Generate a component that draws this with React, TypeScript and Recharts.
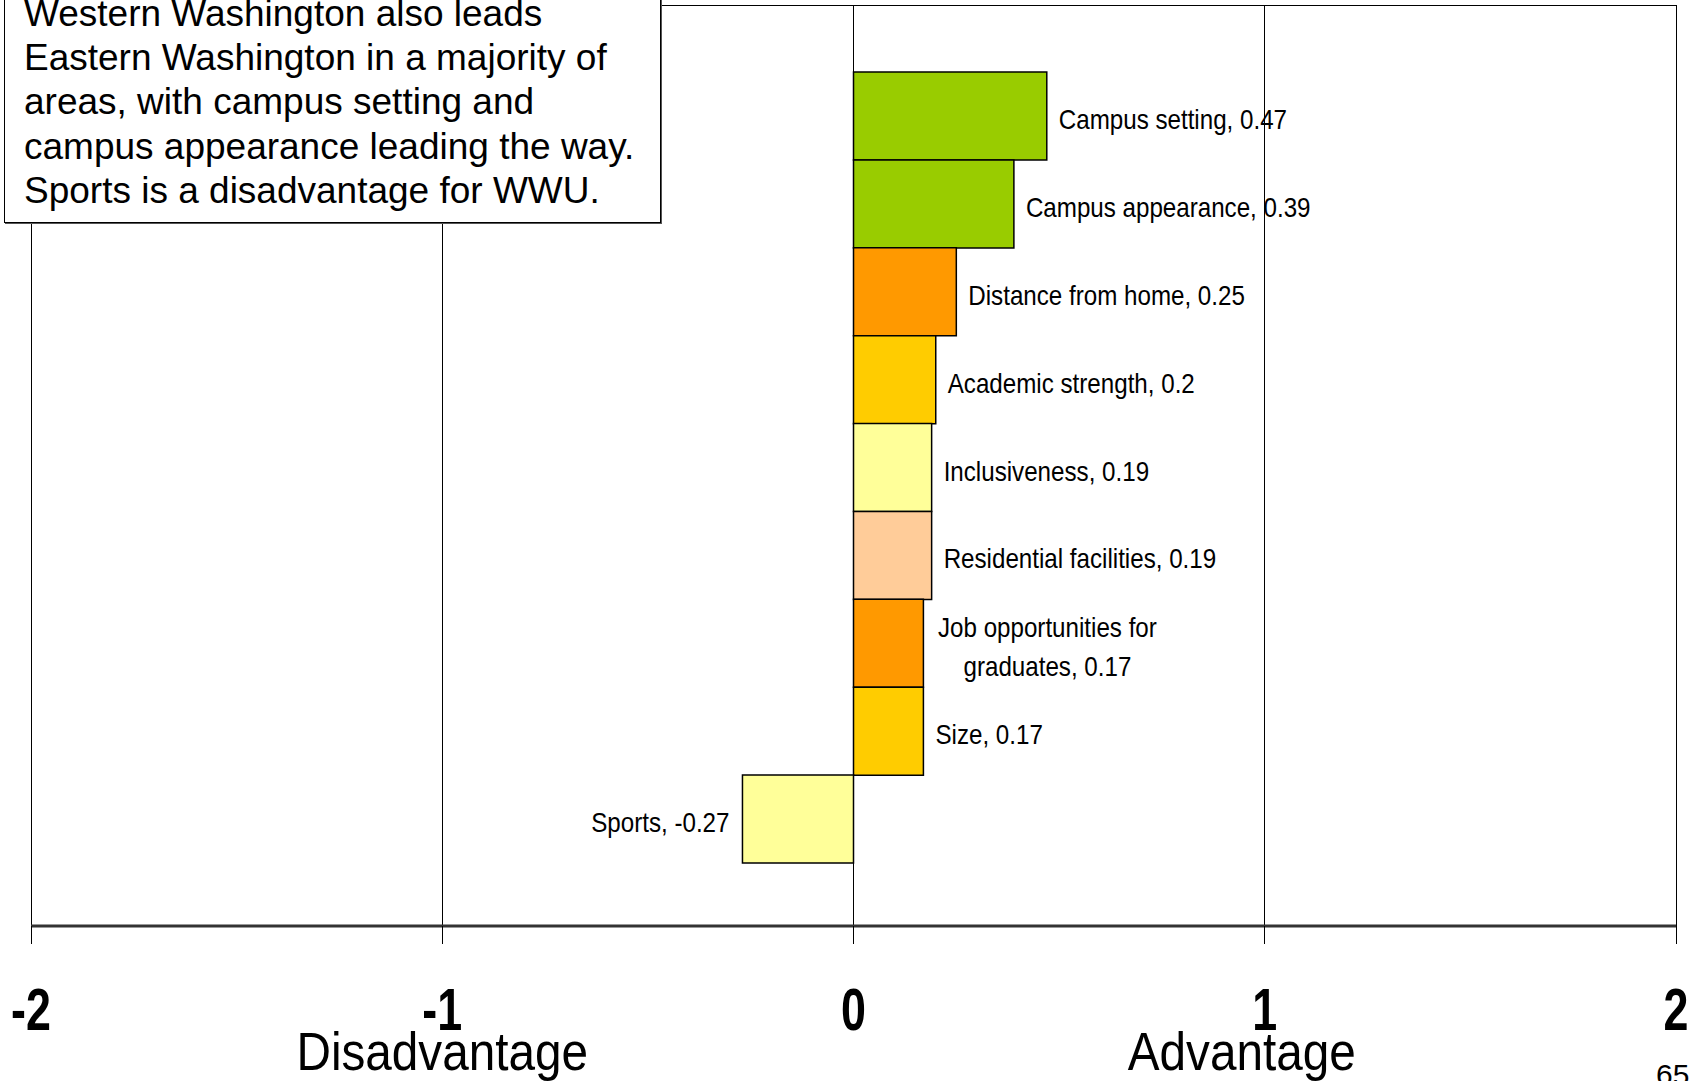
import { BarChart, Bar, XAxis, YAxis, CartesianGrid, Cell, LabelList } from 'recharts';

const categories = [
  'Campus setting',
  'Campus appearance',
  'Distance from home',
  'Academic strength',
  'Inclusiveness',
  'Residential facilities',
  'Job opportunities for graduates',
  'Size',
  'Sports',
];
const values = [0.47, 0.39, 0.25, 0.2, 0.19, 0.19, 0.17, 0.17, -0.27];
const barColors = ['#99CC00', '#99CC00', '#FF9900', '#FFCC00', '#FFFF99', '#FFCC99', '#FF9900', '#FFCC00', '#FFFF99'];
const xTicks = [-2, -1, 0, 1, 2];
const axisCaptions = [
  { at: -1, text: 'Disadvantage', shift: 0 },
  { at: 1, text: 'Advantage', shift: -23 },
];
const noteLines = [
  'Western Washington also leads',
  'Eastern Washington in a majority of',
  'areas, with campus setting and',
  'campus appearance leading the way.',
  'Sports is a disadvantage for WWU.',
];
const pageNumber = '65';

const data = categories.map((name, i) => ({ name, value: values[i] }));

const FONT = '"Liberation Sans", Arial, sans-serif';
const NARROW = 0.895;

function AxisTick(props: any) {
  const { x, y, payload } = props;
  const caption = axisCaptions.find((c) => c.at === payload.value);
  return (
    <g>
      <text
        transform={`translate(${x},${y + 84}) scale(0.76,1)`}
        textAnchor="middle"
        fontFamily={FONT}
        fontWeight="bold"
        fontSize={59}
        fill="#000"
      >
        {payload.value}
      </text>
      {caption && (
        <text
          transform={`translate(${x + caption.shift},${y + 124}) scale(0.9,1)`}
          textAnchor="middle"
          fontFamily={FONT}
          fontSize={53}
          fill="#000"
        >
          {caption.text}
        </text>
      )}
    </g>
  );
}

function BarLabel(props: any) {
  const { x, y, width, height, value } = props;
  const i = categories.indexOf(value);
  const v = values[i];
  const left = Math.min(x, x + width);
  const right = Math.max(x, x + width);
  const cy = y + height / 2 + 3;
  const style = { fontFamily: FONT, fontSize: 27, fill: '#000' };
  if (value.includes(' for ')) {
    const cut = value.indexOf(' for ') + 4;
    const l1 = value.slice(0, cut);
    const l2 = `${value.slice(cut + 1)}, ${v}`;
    const cx = right + 124;
    return (
      <g>
        <text transform={`translate(${cx},${cy - 9}) scale(${NARROW},1)`} textAnchor="middle" {...style}>{l1}</text>
        <text transform={`translate(${cx},${cy + 30}) scale(${NARROW},1)`} textAnchor="middle" {...style}>{l2}</text>
      </g>
    );
  }
  const label = `${value}, ${v}`;
  if (v < 0) {
    return (
      <text transform={`translate(${left - 13},${cy + 10}) scale(${NARROW},1)`} textAnchor="end" {...style}>{label}</text>
    );
  }
  return (
    <text transform={`translate(${right + 12},${cy + 10}) scale(${NARROW},1)`} textAnchor="start" {...style}>{label}</text>
  );
}

export default function App() {
  return (
    <div style={{ position: 'fixed', left: 0, top: 0, width: 1692, height: 1081, overflow: 'hidden', background: '#fff' }}>
      <BarChart
        width={1692}
        height={1081}
        data={data}
        layout="vertical"
        barCategoryGap={0}
        margin={{ top: 5, right: 16, left: 31, bottom: 55 }}
      >
        <CartesianGrid
          stroke="#000"
          strokeWidth={1}
          shapeRendering="crispEdges"
          horizontalCoordinatesGenerator={({ offset }: any) => [offset.top + 0.5]}
        />
        <XAxis
          type="number"
          domain={[-2, 2]}
          ticks={xTicks}
          height={100}
          axisLine={{ stroke: '#333', strokeWidth: 3 }}
          tickLine={{ stroke: '#000', shapeRendering: 'crispEdges' }}
          tickSize={18}
          tick={<AxisTick />}
          interval={0}
        />
        <YAxis type="category" dataKey="name" hide padding={{ top: 67, bottom: 63 }} />
        <Bar dataKey="value" stroke="#000" strokeWidth={1.5} isAnimationActive={false}>
          {data.map((d, i) => (
            <Cell key={d.name} fill={barColors[i]} />
          ))}
          <LabelList dataKey="name" content={<BarLabel />} />
        </Bar>
      </BarChart>
      <div
        style={{
          position: 'absolute',
          left: 4,
          top: -30,
          width: 636,
          height: 230,
          border: '1px solid #000',
          boxShadow: '1px 1px 0 #555',
          background: '#fff',
          paddingTop: 21,
          paddingLeft: 19,
          fontFamily: FONT,
          fontSize: 37,
          lineHeight: '44.2px',
          color: '#000',
          whiteSpace: 'nowrap',
        }}
      >
        {noteLines.map((t) => (
          <div key={t}>{t}</div>
        ))}
      </div>
      <div
        style={{
          position: 'absolute',
          left: 1656,
          top: 1060,
          fontFamily: FONT,
          fontSize: 30,
          lineHeight: '30px',
          color: '#000',
        }}
      >
        {pageNumber}
      </div>
    </div>
  );
}
